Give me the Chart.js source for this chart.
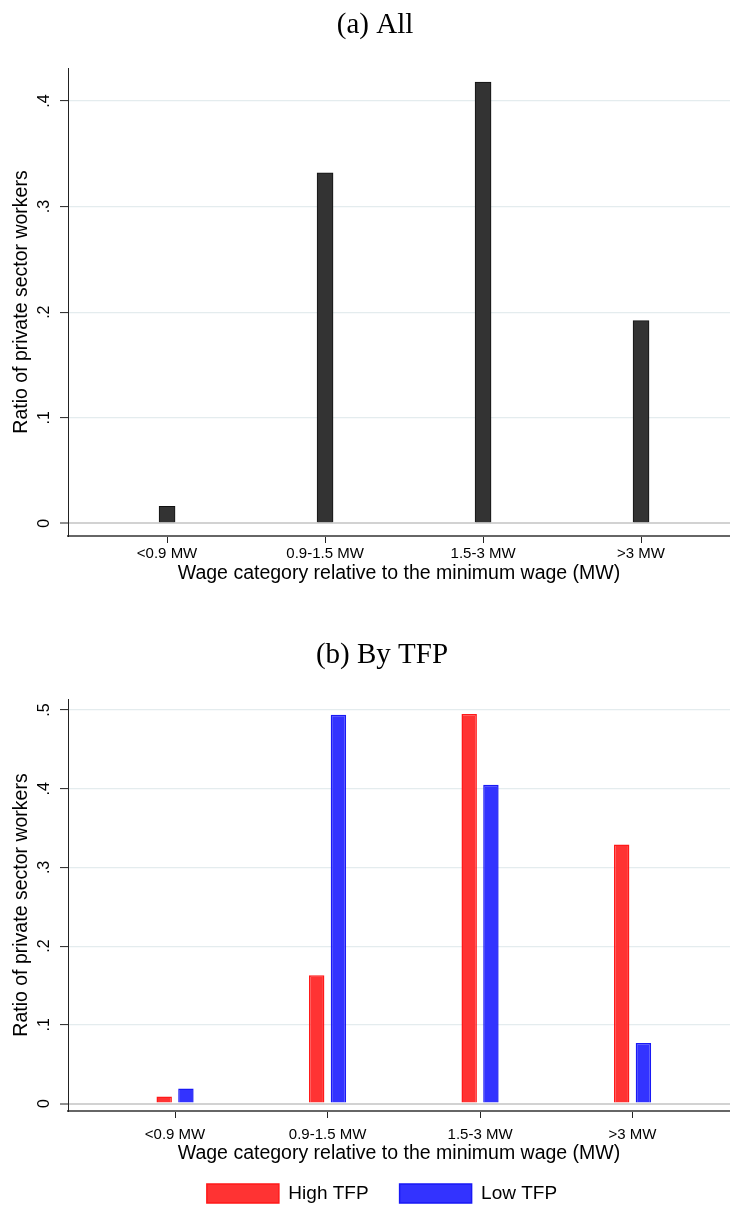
<!DOCTYPE html>
<html>
<head>
<meta charset="utf-8">
<script src="https://cdn.jsdelivr.net/npm/chart.js@4.4.1/dist/chart.umd.min.js"></script>
<style>
  html, body { margin: 0; padding: 0; background: #fff; overflow: hidden; }
  #wrapA { position: absolute; left: 0; top: 0; }
  #wrapB { position: absolute; left: 0; top: 600px; }
</style>
</head>
<body>
<div id="wrapA"><canvas id="chartA" width="730" height="600"></canvas></div>
<div id="wrapB"><canvas id="chartB" width="730" height="613"></canvas></div>
<script>
// data
const categories = ['<0.9 MW', '0.9-1.5 MW', '1.5-3 MW', '>3 MW'];
const allValues = [0.016, 0.332, 0.418, 0.192];
const highTfpValues = [0.009, 0.163, 0.495, 0.329];
const lowTfpValues = [0.019, 0.494, 0.405, 0.077];

const yTicksA = [0, 0.1, 0.2, 0.3, 0.4];
const yTicksB = [0, 0.1, 0.2, 0.3, 0.4, 0.5];
const yTickLabelsA = ['0', '.1', '.2', '.3', '.4'];
const yTickLabelsB = ['0', '.1', '.2', '.3', '.4', '.5'];

const SANS = "'Liberation Sans', Arial, sans-serif";
const SERIF = "'Liberation Serif', 'Times New Roman', serif";

function toPoints(values)
{
    return values.map((v, i) => ({ x: i, y: v }));
}

function buildChart(id, cfg)
{
    return new Chart(document.getElementById(id), {
        type: 'bar',
        data: { datasets: cfg.datasets },
        options: {
            responsive: false,
            animation: false,
            layout: { padding: { left: cfg.padLeft, right: 0, top: 0, bottom: 0 } },
            plugins: {
                title: {
                    display: true,
                    text: cfg.title,
                    color: '#000',
                    font: { family: SERIF, size: 29, weight: 'normal' },
                    padding: cfg.titlePadding
                },
                legend: cfg.legend,
                tooltip: { enabled: false }
            },
            scales: {
                x: {
                    type: 'linear',
                    min: cfg.xMin,
                    max: cfg.xMax,
                    offset: false,
                    afterBuildTicks: s => { s.ticks = categories.map((c, i) => ({ value: i })); },
                    afterFit: s => { s.height = cfg.xHeight; },
                    ticks: {
                        autoSkip: false, minRotation: 0, maxRotation: 0,
                        padding: cfg.xTickPad,
                        color: '#000',
                        font: { family: SANS, size: 15 },
                        callback: (v, i) => categories[i]
                    },
                    grid: { offset: false, drawOnChartArea: false, drawTicks: true, tickLength: 7, tickColor: '#222', tickWidth: 1 },
                    border: { display: true, color: '#666666', width: 2 },
                    title: {
                        display: true,
                        text: 'Wage category relative to the minimum wage (MW)',
                        color: '#000',
                        font: { family: SANS, size: 19.5 },
                        padding: { top: 0, bottom: cfg.xTitlePad }
                    }
                },
                y: {
                    min: cfg.yMin,
                    max: cfg.yMax,
                    afterBuildTicks: s => { s.ticks = cfg.yTicks.map(v => ({ value: v })); },
                    afterFit: s => { s.width = 68 - cfg.padLeft; },
                    ticks: {
                        minRotation: 90, maxRotation: 90,
                        crossAlign: 'center',
                        padding: 9,
                        color: '#000',
                        font: { family: SANS, size: 16 },
                        callback: (v, i) => cfg.yTickLabels[i]
                    },
                    grid: {
                        color: c => (c.tick && c.tick.value === 0) ? '#d2d2d2' : '#e4ecee',
                        lineWidth: c => (c.tick && c.tick.value === 0) ? 2 : 1.2,
                        tickColor: '#222', tickWidth: 1, tickLength: 8, drawTicks: true
                    },
                    border: { display: true, color: '#222', width: 1 },
                    title: {
                        display: true,
                        text: 'Ratio of private sector workers',
                        color: '#000',
                        font: { family: SANS, size: 19.5 },
                        padding: { top: 22 - cfg.padLeft - 11.7, bottom: 0 }
                    }
                }
            }
        }
    });
}

// (a) All
buildChart('chartA', {
    title: '(a) All',
    titlePadding: { top: 7.6, bottom: 25.6 },
    padLeft: 20,
    datasets: [{
        label: 'All',
        data: toPoints(allValues),
        backgroundColor: '#333333',
        borderColor: '#111111',
        borderWidth: 1,
        barThickness: 16
    }],
    legend: { display: false },
    xMin: -0.627, xMax: 3.563,
    xHeight: 64, xTickPad: 2, xTitlePad: 14.5,
    yMin: -0.012, yMax: 0.4313,
    yTicks: yTicksA, yTickLabels: yTickLabelsA
});

// (b) By TFP
buildChart('chartB', {
    title: '(b) By TFP',
    titlePadding: { top: 37.6, bottom: 26.6 },
    padLeft: 34,
    datasets: [{
        label: 'High TFP',
        data: toPoints(highTfpValues),
        backgroundColor: 'rgb(255,51,51)',
        borderColor: 'rgb(255,25,25)',
        borderWidth: 1.5,
        categoryPercentage: 0.285,
        barPercentage: 0.71
    }, {
        label: 'Low TFP',
        data: toPoints(lowTfpValues),
        backgroundColor: 'rgb(51,51,255)',
        borderColor: 'rgb(25,25,245)',
        borderWidth: 1.5,
        categoryPercentage: 0.285,
        barPercentage: 0.71
    }],
    legend: {
        display: true,
        position: 'bottom',
        labels: { boxWidth: 72, boxHeight: 19, padding: 31, color: '#000', font: { family: SANS, size: 19 } }
    },
    xMin: -0.702, xMax: 3.639,
    xHeight: 42, xTickPad: 7.5, xTitlePad: -12.5,
    yMin: -0.0095, yMax: 0.514,
    yTicks: yTicksB, yTickLabels: yTickLabelsB
});
</script>
</body>
</html>
